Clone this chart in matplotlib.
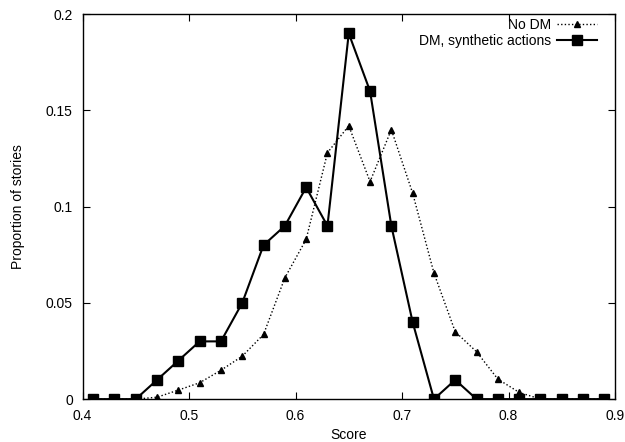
import matplotlib
matplotlib.use("Agg")
import matplotlib.pyplot as plt
from matplotlib.ticker import FuncFormatter

plt.rcParams['font.family'] = ['Liberation Sans', 'DejaVu Sans']

scores = [0.41, 0.43, 0.45, 0.47, 0.49, 0.51, 0.53, 0.55, 0.57, 0.59, 0.61, 0.63,
          0.65, 0.67, 0.69, 0.71, 0.73, 0.75, 0.77, 0.79, 0.81, 0.83, 0.85, 0.87, 0.89]
no_dm = [0.0, 0.0, 0.0, 0.001, 0.0047, 0.0085, 0.015, 0.0223, 0.0336, 0.063, 0.083, 0.128,
         0.142, 0.113, 0.140, 0.107, 0.0655, 0.035, 0.0246, 0.0104, 0.0035, 0.0, 0.0, 0.0, 0.0]
dm_synth = [0.0, 0.0, 0.0, 0.01, 0.02, 0.03, 0.03, 0.05, 0.08, 0.09, 0.11, 0.09,
            0.19, 0.16, 0.09, 0.04, 0.0, 0.01, 0.0, 0.0, 0.0, 0.0, 0.0, 0.0, 0.0]
xticks = [0.4, 0.5, 0.6, 0.7, 0.8, 0.9]
yticks = [0, 0.05, 0.1, 0.15, 0.2]

fig = plt.figure(figsize=(6.25, 4.42), dpi=100)
ax = fig.add_axes([0.132, 0.097, 0.852, 0.871])

ax.plot(scores, no_dm, color='black', linestyle=(0, (1, 1.6)), linewidth=1.0,
        marker='^', markersize=4.5, label='No DM')
ax.plot(scores, dm_synth, color='black', linestyle='-', linewidth=1.5,
        marker='s', markersize=7, label='DM, synthetic actions')

ax.set_xlim(0.4, 0.9)
ax.set_ylim(0, 0.2)
ax.set_xticks(xticks)
ax.set_yticks(yticks)
fmt = FuncFormatter(lambda v, p: ('%g' % v))
ax.xaxis.set_major_formatter(fmt)
ax.yaxis.set_major_formatter(fmt)
ax.tick_params(direction='in', top=True, right=True, length=5, width=0.8,
               labelsize=10, pad=7)
for s in ax.spines.values():
    s.set_linewidth(1.0)

ax.set_xlabel('Score', fontsize=10, labelpad=4)
ax.set_ylabel('Proportion of stories', fontsize=10, labelpad=15)

leg = ax.legend(loc='upper right', bbox_to_anchor=(0.966, 0.99), frameon=False,
                markerfirst=False, fontsize=10, handlelength=2.9, handletextpad=0.36,
                borderaxespad=0.0, borderpad=0.0, labelspacing=0.12)
for t in leg.get_texts():
    t.set_ha('right')

fig.savefig('out.png', dpi=100)
